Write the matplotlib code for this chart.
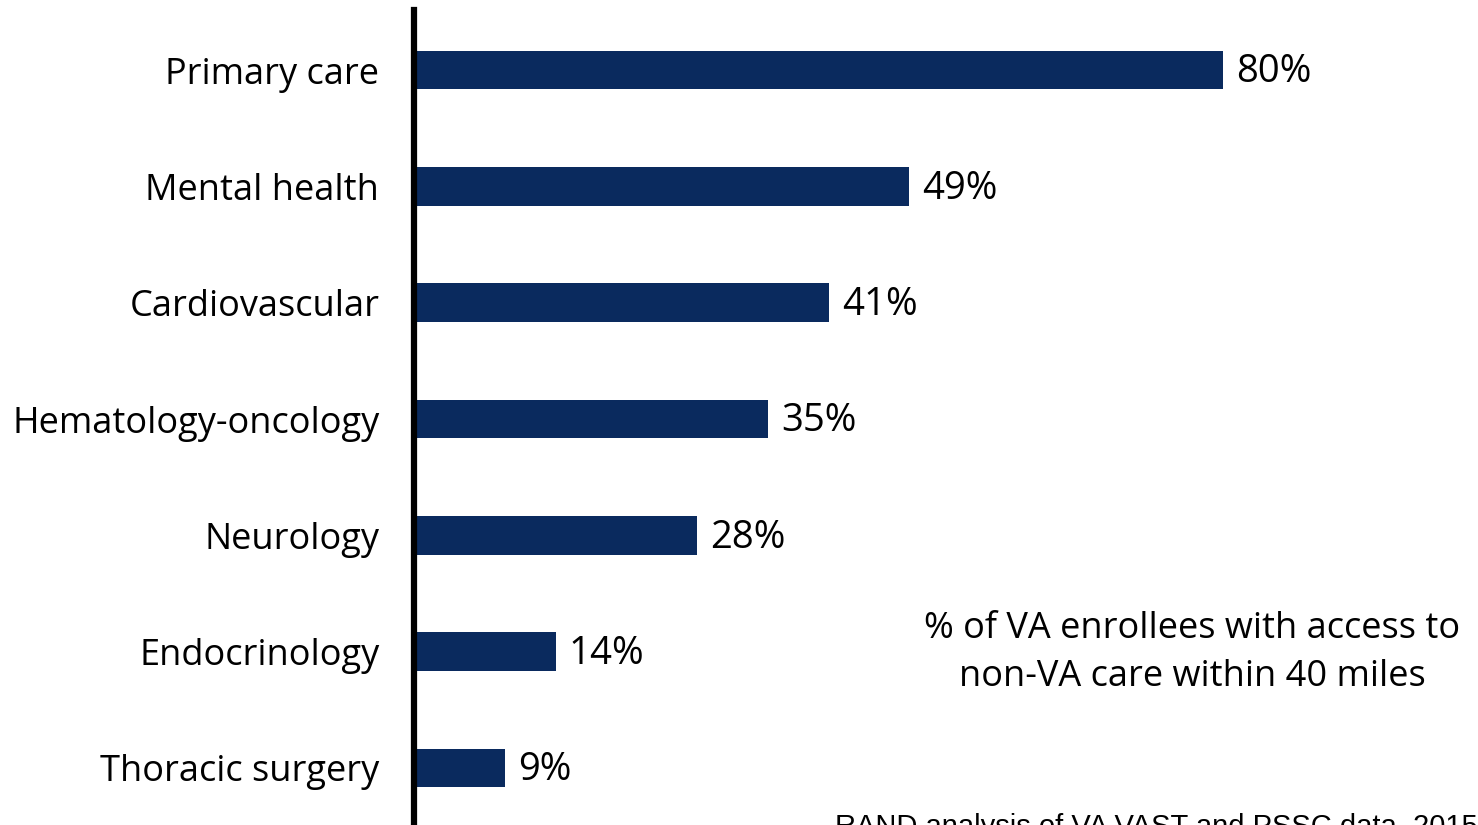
import matplotlib
matplotlib.use("Agg")
import matplotlib.pyplot as plt

# data
categories = ["Primary care", "Mental health", "Cardiovascular", "Hematology-oncology",
              "Neurology", "Endocrinology", "Thoracic surgery"]
values = [80, 49, 41, 35, 28, 14, 9]

bar_color = "#0A2A5E"
W, H = 1478, 825

plt.rcParams['font.family'] = ['Open Sans', 'DejaVu Sans']

fig = plt.figure(figsize=(W / 100, H / 100), dpi=100)
ax = fig.add_axes([414 / W, 0, 1011 / W, 1 - 10 / H])

pos = list(range(len(categories)))
ax.barh(pos, values, height=0.33, color=bar_color)

for p, v in zip(pos, values):
    ax.text(v + 1.3, p + 0.02, f"{v}%", va="center", ha="left", fontsize=27.5, color="black")

ax.set_xlim(0, 100)
ax.set_ylim(6.49, -0.516)
ax.set_yticks(pos)
ax.set_yticklabels(categories, fontsize=26)
ax.tick_params(axis="y", length=0, pad=25)
ax.set_xticks([])

for side in ["top", "right", "bottom"]:
    ax.spines[side].set_visible(False)
ax.spines["left"].set_linewidth(4.5)
ax.spines["left"].set_color("black")

fig.text(1192 / W, 1 - 653 / H, "% of VA enrollees with access to\nnon-VA care within 40 miles",
         ha="center", va="center", fontsize=26, linespacing=1.45)

fig.text(835 / W, 1 - 813 / H, "RAND analysis of VA VAST and PSSC data, 2015",
         ha="left", va="top", fontsize=21, family=["Liberation Sans"])

fig.savefig("out.png", dpi=100)
